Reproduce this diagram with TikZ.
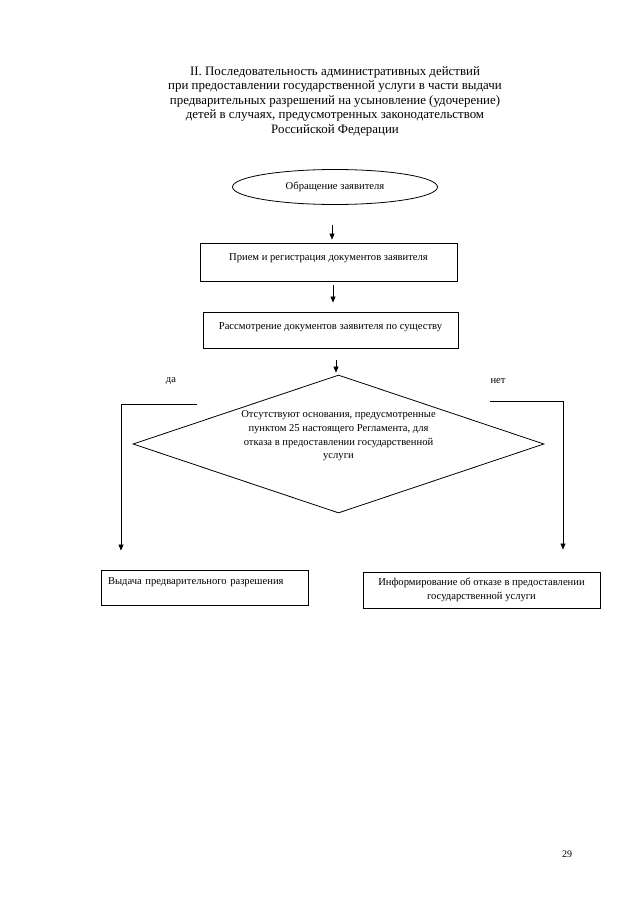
\documentclass[tikz,border=0pt]{standalone}
\usepackage{fontspec}
\setmainfont{Liberation Serif}
\usetikzlibrary{shapes.geometric,arrows.meta}

\begin{document}
\begin{tikzpicture}[x=1pt,y=-1pt,
box/.style={draw,line width=0.9pt,minimum height=37,inner sep=2pt,font=\fontsize{10.6}{13.7}\selectfont},
arr/.style={-{Triangle[length=6pt,width=5pt]},line width=0.6pt},
txt/.style={font=\fontsize{10.6}{13.7}\selectfont}]
\useasboundingbox (0,0) rectangle (640,905);
% title
\node[align=center,font=\fontsize{12.9}{14.5}\selectfont] (title) at (335,101)
 {II. Последовательность административных действий\\
  при предоставлении государственной услуги в части выдачи\\
  предварительных разрешений на усыновление (удочерение)\\
  детей в случаях, предусмотренных законодательством\\
  Российской Федерации};
% steps
\node[ellipse,draw,line width=0.8pt,minimum width=205,minimum height=35,txt] (obr) at (335,187) {Обращение заявителя};
\node[box,minimum width=257,minimum height=38,text depth=10pt] (priem) at (328.5,262) {Прием и регистрация документов заявителя};
\node[box,minimum width=255,minimum height=36,text depth=8pt] (rassm) at (330.5,330) {Рассмотрение документов заявителя по существу};
\node[diamond,draw,line width=0.8pt,minimum width=411,minimum height=138,inner sep=0pt,
 label={[txt,align=center,yshift=8pt]center:{Отсутствуют основания, предусмотренные\\
  пунктом 25 настоящего Регламента, для\\
  отказа в предоставлении государственной\\
  услуги}}] (reshenie) at (338.5,444) {};
\node[box,minimum width=207,minimum height=35,text depth=12pt,text width=193,align=left] (vydacha) at (204.5,587.5) {Выдача предварительного разрешения};
\node[box,minimum width=237,minimum height=36,align=center] (otkaz) at (481.5,590)
 {Информирование об отказе в предоставлении\\государственной услуги};
% labels
\node[txt] (da) at (171,381) {да};
\node[txt] (net) at (498,381) {нет};
\coordinate (dastart) at (197,404);
\coordinate (netstart) at (490,401);
% arrows
\draw[arr,shorten <=20pt,shorten >=3pt] ([xshift=-3pt]obr.south) -- ([xshift=3.5pt]priem.north);
\draw[arr,shorten <=4pt,shorten >=9pt] ([xshift=4.5pt]priem.south) -- ([xshift=2.5pt]rassm.north);
\draw[arr,shorten <=12pt,shorten >=2pt] ([xshift=5.5pt]rassm.south) -- ([xshift=-2.5pt]reshenie.north);
\draw[arr,shorten >=19pt] (dastart) -| ([xshift=-83.5pt]vydacha.north);
\draw[arr,shorten >=22pt] (netstart) -| ([xshift=81.5pt]otkaz.north);
% page number
\node[font=\fontsize{10}{12}\selectfont] (page) at (567,854) {29};
\end{tikzpicture}
\end{document}
